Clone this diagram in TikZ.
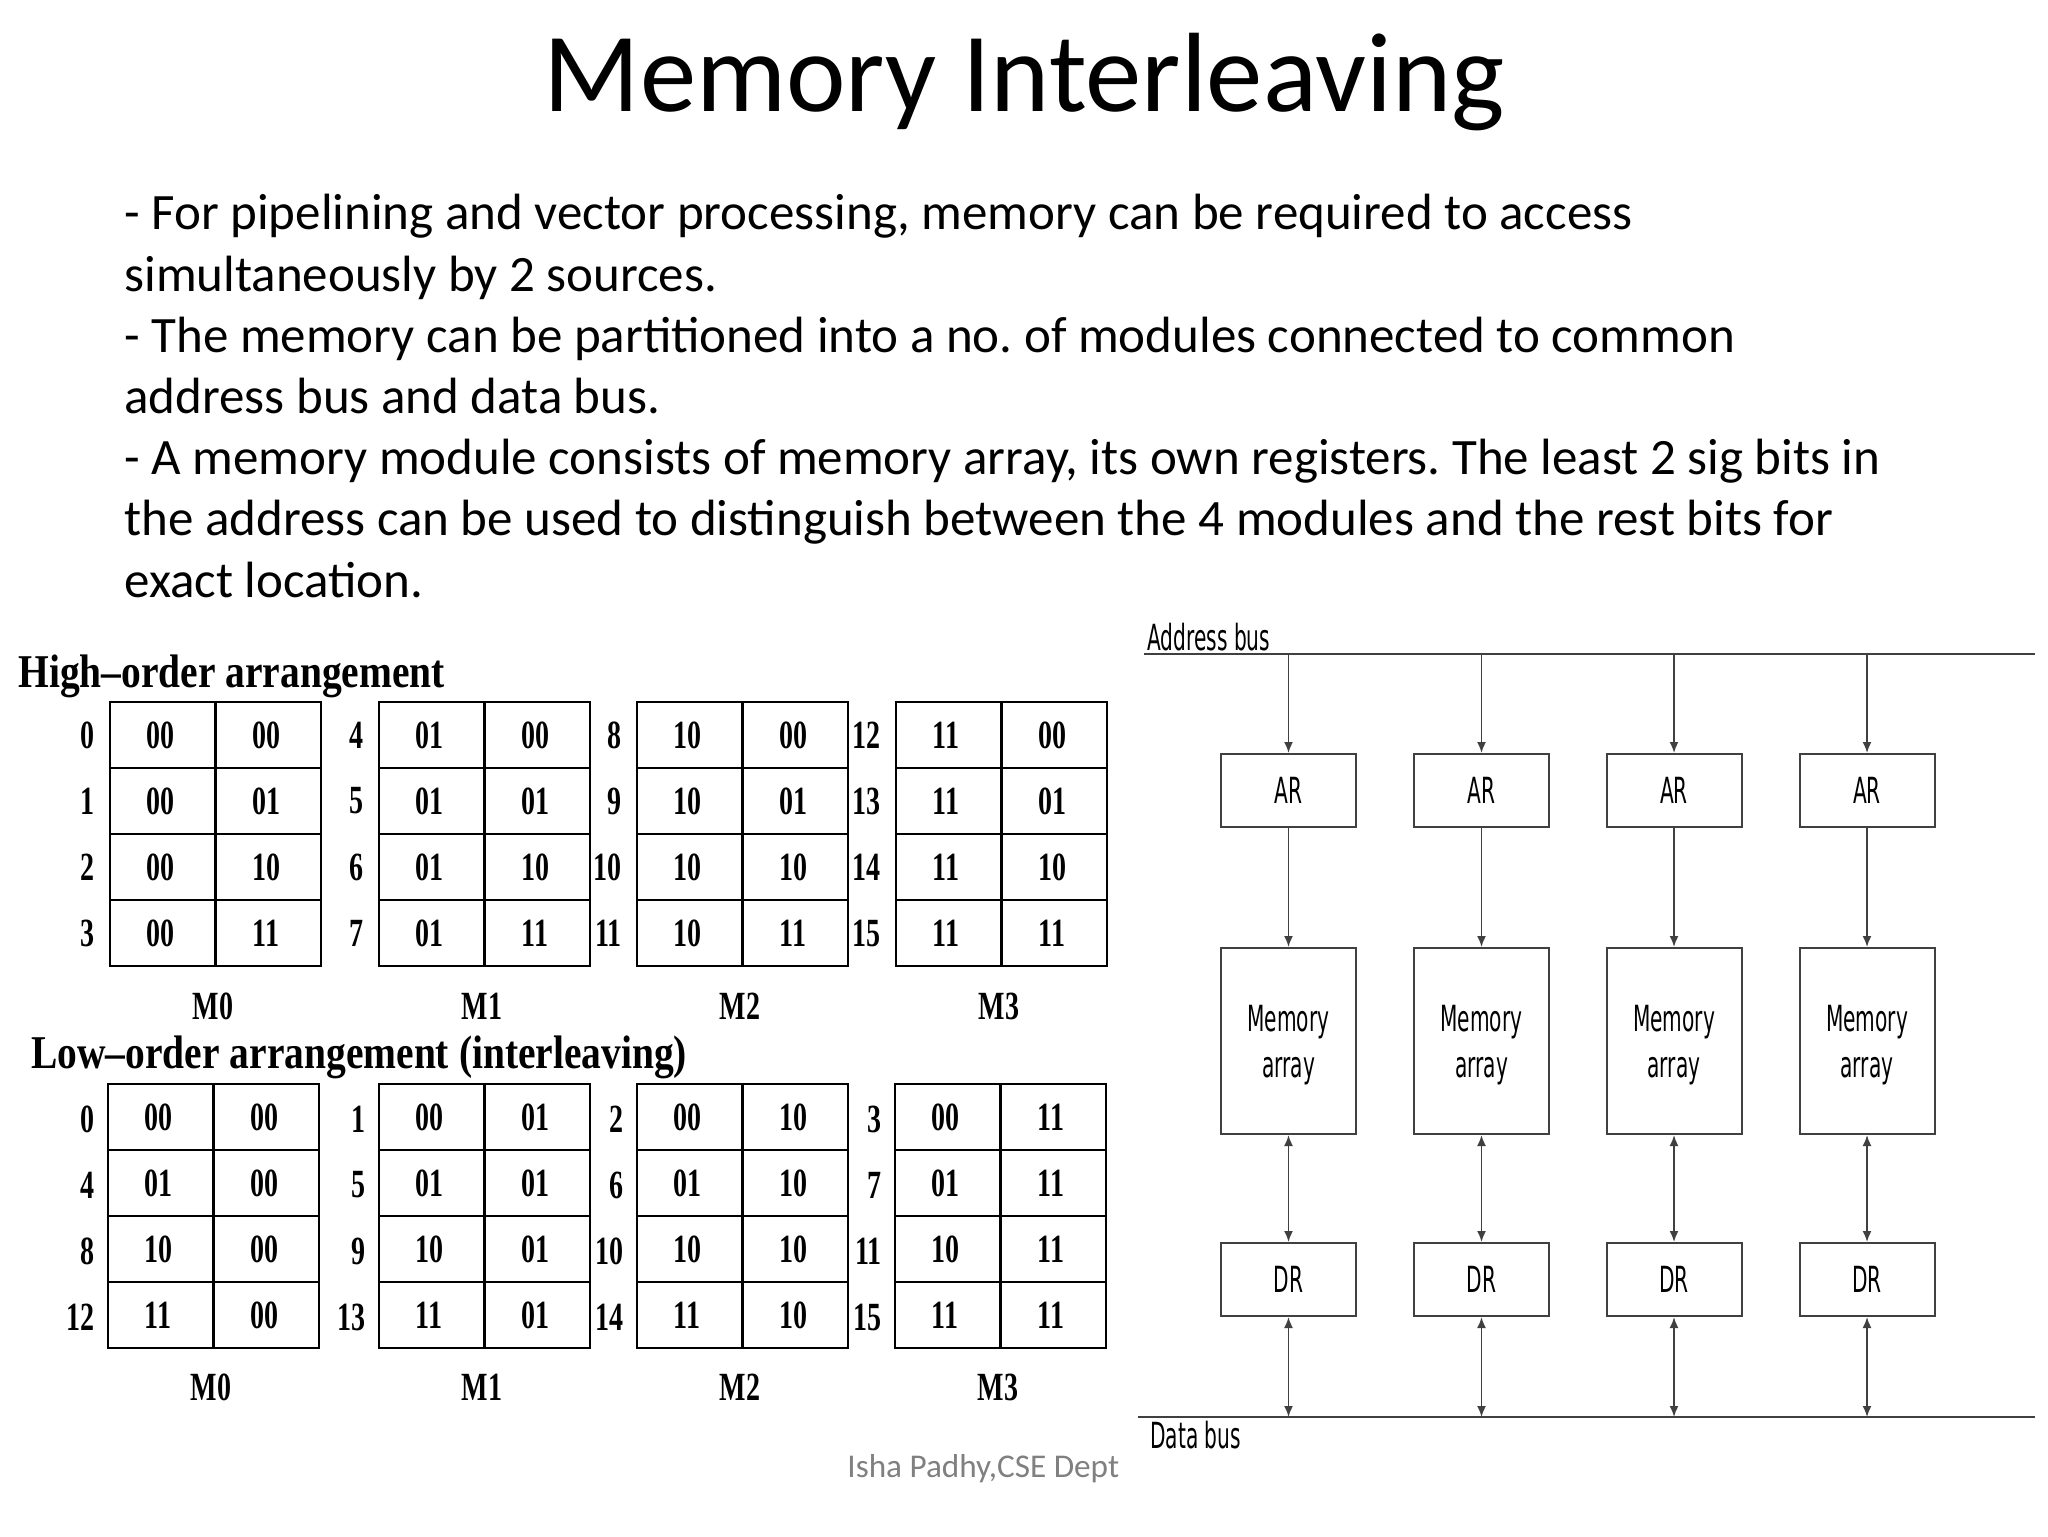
\documentclass[tikz,border=0pt]{standalone}
\usepackage{fontspec}
\setmainfont{Carlito}
\newfontfamily\tabfont[FakeStretch=0.7]{Liberation Serif}
\newfontfamily\headfont[FakeStretch=0.84]{Liberation Serif}
\newfontfamily\busfont[FakeStretch=0.56]{DejaVu Sans}
\usetikzlibrary{arrows.meta}
\definecolor{footgray}{HTML}{808080}
\definecolor{wire}{HTML}{404040}
\frenchspacing

\tikzset{
  cellline/.style={line width=1.3pt},
  bits/.style={font=\tabfont\bfseries\fontsize{20}{24}\selectfont, inner sep=0pt},
  addr/.style={bits, anchor=east},
  reg/.style={draw=wire, line width=1pt, minimum width=67.5pt, align=center,
    inner sep=0pt, font=\busfont\fontsize{18}{23}\selectfont},
  bus/.style={draw=wire, line width=1pt},
  link/.style={draw=wire, line width=0.9pt, -{Latex[length=5.5pt,width=4.5pt]}},
  dlink/.style={draw=wire, line width=0.9pt, {Latex[length=5.5pt,width=4.5pt]}-{Latex[length=5.5pt,width=4.5pt]}},
}

\begin{document}
\begin{tikzpicture}[x=0.5pt,y=-0.5pt]
\useasboundingbox (0,0) rectangle (2048,1536);

\node[
  anchor=base,
  inner sep=0pt,
  font=\fontsize{56.4}{68}\selectfont
] (title) at (1024,112) {Memory Interleaving};

% base anchor sits on the last line here
\node[
  anchor=base west,
  inner sep=0pt,
  align=left,
  font=\fontsize{25.5}{30.6}\selectfont
] (body) at (124,597) {
  - For pipelining and vector processing, memory can be required to access\\
  simultaneously by 2 sources.\\
  - The memory can be partitioned into a no. of modules connected to common\\
  address bus and data bus.\\
  - A memory module consists of memory array, its own registers. The least 2 sig bits in\\
  the address can be used to distinguish between the 4 modules and the rest bits for\\
  exact location.
};

% high-order arrangement
\node[anchor=base west, inner sep=0pt, font=\headfont\bfseries\fontsize{23.5}{28}\selectfont]
  (hititle) at (18,687) {High\textendash order arrangement};
\foreach \m/\mb/\tx in {0/00/110,1/01/379,2/10/637,3/11/896} {
  \draw[cellline] (\tx,702) rectangle +(211,264);
  \draw[cellline] (\tx+105.5,702) -- +(0,264);
  \foreach \yy in {768,834,900} \draw[cellline] (\tx,\yy) -- +(211,0);
  \foreach \r/\rb in {0/00,1/01,2/10,3/11} {
    \pgfmathtruncatemacro{\a}{4*\m+\r}
    \node[addr] (hi-\m-\r-n) at (\tx-15,735+66*\r) {\a};
    \node[bits] (hi-\m-\r-l) at (\tx+50,735+66*\r) {\mb};
    \node[bits] (hi-\m-\r-r) at (\tx+156,735+66*\r) {\rb};
  }
  \node[bits] (hi-mod\m) at (\tx+103,1006) {M\m};
}

% low-order arrangement
\node[anchor=base west, inner sep=0pt, font=\headfont\bfseries\fontsize{23.5}{28}\selectfont]
  (lotitle) at (31,1068) {Low\textendash order arrangement (interleaving)};
\foreach \m/\mb/\tx in {0/00/108,1/01/379,2/10/637,3/11/895} {
  \draw[cellline] (\tx,1084) rectangle +(211,264);
  \draw[cellline] (\tx+105.5,1084) -- +(0,264);
  \foreach \yy in {1150,1216,1282} \draw[cellline] (\tx,\yy) -- +(211,0);
  \foreach \r/\rb in {0/00,1/01,2/10,3/11} {
    \pgfmathtruncatemacro{\a}{4*\r+\m}
    \node[addr] (lo-\m-\r-n) at (\tx-13,1119+66*\r) {\a};
    \node[bits] (lo-\m-\r-l) at (\tx+50,1117+66*\r) {\rb};
    \node[bits] (lo-\m-\r-r) at (\tx+156,1117+66*\r) {\mb};
  }
  \node[bits] (lo-mod\m) at (\tx+103,1387) {M\m};
}

% modules on the two buses
\coordinate (abL) at (1144,654);
\coordinate (abR) at (2035,654);
\coordinate (dbL) at (1138,1417);
\coordinate (dbR) at (2035,1417);
\draw[bus] (abL) -- (abR);
\draw[bus] (dbL) -- (dbR);
\node[anchor=base west, inner sep=0pt, font=\busfont\fontsize{18}{21}\selectfont]
  (ablabel) at (1147,650) {Address bus};
\node[anchor=base west, inner sep=0pt, font=\busfont\fontsize{18}{21}\selectfont]
  (dblabel) at (1150,1448) {Data bus};
\foreach \i/\cx in {0/1288.5,1/1481.5,2/1674,3/1867} {
  \coordinate (ab\i) at (\cx,654);
  \coordinate (db\i) at (\cx,1417);
  \node[reg, minimum height=36.5pt] (ar\i) at (\cx,790.5) {AR};
  \node[reg, minimum height=93pt, text depth=0pt] (mem\i) at (\cx,1041) {Memory\\array};
  \node[reg, minimum height=36.5pt] (dr\i) at (\cx,1279.5) {DR};
  \draw[link] (ab\i) -- (ar\i);
  \draw[link] (ar\i) -- (mem\i);
  \draw[dlink] (mem\i) -- (dr\i);
  \draw[dlink] (dr\i) -- (db\i);
}

\node[
  anchor=base west,
  inner sep=0pt,
  text=footgray,
  font=\fontsize{16.6}{20}\selectfont
] (foot) at (847,1477) {Isha Padhy,CSE Dept};
\end{tikzpicture}
\end{document}
